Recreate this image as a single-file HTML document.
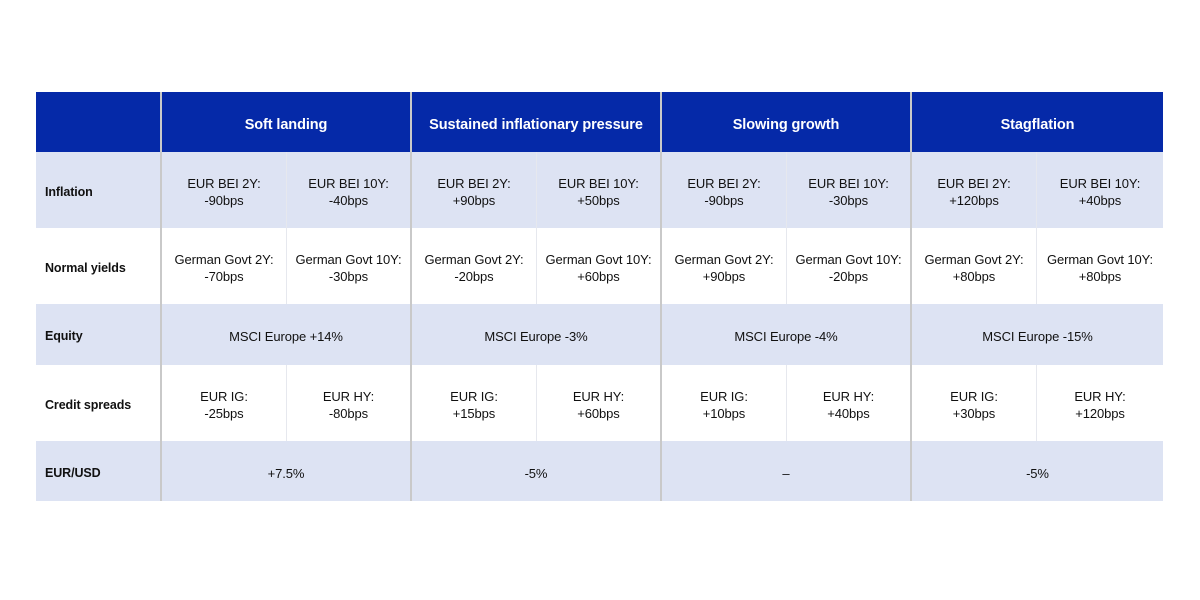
<!DOCTYPE html>
<html><head><style>
body{margin:0;width:1200px;height:600px;background:#fff;position:relative;font-family:"Liberation Sans",sans-serif;overflow:hidden}
.r{position:absolute;left:36px;width:1127px}
.c{position:absolute;display:flex;align-items:center;justify-content:center;text-align:center;font-size:13px;color:#111;line-height:17px;box-sizing:border-box;padding-top:4px;letter-spacing:-0.1px}
.h{color:#fff;font-weight:bold;font-size:14.5px;padding-top:6px}
.l{justify-content:flex-start;padding-left:9px;font-weight:bold;font-size:12.5px}
.v{position:absolute;top:92px;height:409px;width:2px;background:#c9c9c9}
.s{position:absolute;width:1px;background:#e6e8ee}
</style></head><body>
<div class="r" style="top:92px;height:60px;background:#0529a8"></div>
<div class="r" style="top:152px;height:76px;background:#dde3f3"></div>
<div class="r" style="top:304px;height:61px;background:#dde3f3"></div>
<div class="r" style="top:441px;height:60px;background:#dde3f3"></div>

<div class="s" style="left:286px;top:152px;height:152px"></div>
<div class="s" style="left:536px;top:152px;height:152px"></div>
<div class="s" style="left:786px;top:152px;height:152px"></div>
<div class="s" style="left:1036px;top:152px;height:152px"></div>
<div class="s" style="left:286px;top:365px;height:76px"></div>
<div class="s" style="left:536px;top:365px;height:76px"></div>
<div class="s" style="left:786px;top:365px;height:76px"></div>
<div class="s" style="left:1036px;top:365px;height:76px"></div>

<div class="v" style="left:160px"></div>
<div class="v" style="left:410px"></div>
<div class="v" style="left:660px"></div>
<div class="v" style="left:910px"></div>

<div class="c h" style="left:162px;top:92px;width:248px;height:60px">Soft landing</div>
<div class="c h" style="left:412px;top:92px;width:248px;height:60px">Sustained inflationary pressure</div>
<div class="c h" style="left:662px;top:92px;width:248px;height:60px">Slowing growth</div>
<div class="c h" style="left:912px;top:92px;width:251px;height:60px">Stagflation</div>

<div class="c l" style="left:36px;top:152px;height:76px">Inflation</div>
<div class="c l" style="left:36px;top:228px;height:76px">Normal yields</div>
<div class="c l" style="left:36px;top:304px;height:61px">Equity</div>
<div class="c l" style="left:36px;top:365px;height:76px">Credit spreads</div>
<div class="c l" style="left:36px;top:441px;height:60px">EUR/USD</div>

<div class="c" style="left:162px;top:152px;width:124px;height:76px">EUR BEI 2Y:<br>-90bps</div>
<div class="c" style="left:287px;top:152px;width:123px;height:76px">EUR BEI 10Y:<br>-40bps</div>
<div class="c" style="left:412px;top:152px;width:124px;height:76px">EUR BEI 2Y:<br>+90bps</div>
<div class="c" style="left:537px;top:152px;width:123px;height:76px">EUR BEI 10Y:<br>+50bps</div>
<div class="c" style="left:662px;top:152px;width:124px;height:76px">EUR BEI 2Y:<br>-90bps</div>
<div class="c" style="left:787px;top:152px;width:123px;height:76px">EUR BEI 10Y:<br>-30bps</div>
<div class="c" style="left:912px;top:152px;width:124px;height:76px">EUR BEI 2Y:<br>+120bps</div>
<div class="c" style="left:1037px;top:152px;width:126px;height:76px">EUR BEI 10Y:<br>+40bps</div>

<div class="c" style="left:162px;top:228px;width:124px;height:76px">German Govt 2Y:<br>-70bps</div>
<div class="c" style="left:287px;top:228px;width:123px;height:76px">German Govt 10Y:<br>-30bps</div>
<div class="c" style="left:412px;top:228px;width:124px;height:76px">German Govt 2Y:<br>-20bps</div>
<div class="c" style="left:537px;top:228px;width:123px;height:76px">German Govt 10Y:<br>+60bps</div>
<div class="c" style="left:662px;top:228px;width:124px;height:76px">German Govt 2Y:<br>+90bps</div>
<div class="c" style="left:787px;top:228px;width:123px;height:76px">German Govt 10Y:<br>-20bps</div>
<div class="c" style="left:912px;top:228px;width:124px;height:76px">German Govt 2Y:<br>+80bps</div>
<div class="c" style="left:1037px;top:228px;width:126px;height:76px">German Govt 10Y:<br>+80bps</div>

<div class="c" style="left:162px;top:304px;width:248px;height:61px">MSCI Europe +14%</div>
<div class="c" style="left:412px;top:304px;width:248px;height:61px">MSCI Europe -3%</div>
<div class="c" style="left:662px;top:304px;width:248px;height:61px">MSCI Europe -4%</div>
<div class="c" style="left:912px;top:304px;width:251px;height:61px">MSCI Europe -15%</div>

<div class="c" style="left:162px;top:365px;width:124px;height:76px">EUR IG:<br>-25bps</div>
<div class="c" style="left:287px;top:365px;width:123px;height:76px">EUR HY:<br>-80bps</div>
<div class="c" style="left:412px;top:365px;width:124px;height:76px">EUR IG:<br>+15bps</div>
<div class="c" style="left:537px;top:365px;width:123px;height:76px">EUR HY:<br>+60bps</div>
<div class="c" style="left:662px;top:365px;width:124px;height:76px">EUR IG:<br>+10bps</div>
<div class="c" style="left:787px;top:365px;width:123px;height:76px">EUR HY:<br>+40bps</div>
<div class="c" style="left:912px;top:365px;width:124px;height:76px">EUR IG:<br>+30bps</div>
<div class="c" style="left:1037px;top:365px;width:126px;height:76px">EUR HY:<br>+120bps</div>

<div class="c" style="left:162px;top:441px;width:248px;height:60px">+7.5%</div>
<div class="c" style="left:412px;top:441px;width:248px;height:60px">-5%</div>
<div class="c" style="left:662px;top:441px;width:248px;height:60px">–</div>
<div class="c" style="left:912px;top:441px;width:251px;height:60px">-5%</div>
</body></html>
